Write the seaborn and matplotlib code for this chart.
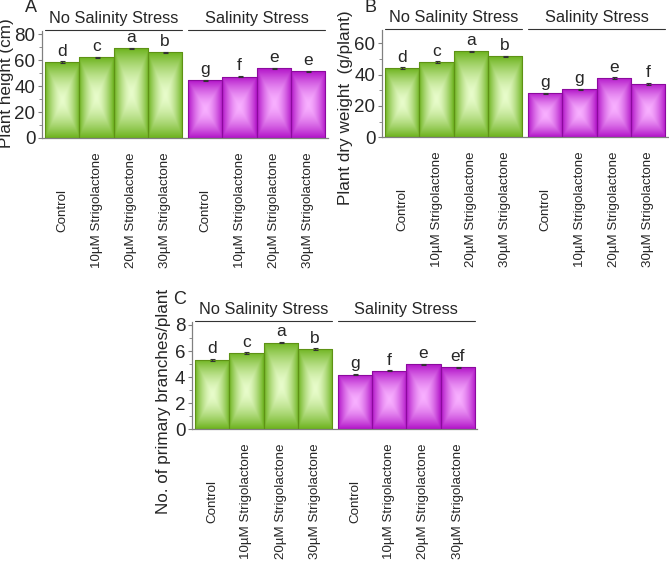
import numpy as np
import pandas as pd
import matplotlib
matplotlib.use("Agg")
import matplotlib.pyplot as plt
import matplotlib.transforms as mtransforms
import seaborn as sns

# data
treatments = ["Control", "10µM Strigolactone", "20µM Strigolactone", "30µM Strigolactone"]
groups = ["No Salinity Stress", "Salinity Stress"]

height_vals = [58.7, 62.4, 69.3, 66.2, 44.6, 47.4, 53.8, 51.5]
height_err = [0.6, 0.5, 0.4, 0.5, 0.5, 0.6, 0.4, 0.5]
height_letters = ["d", "c", "a", "b", "g", "f", "e", "e"]

weight_vals = [44.0, 47.9, 54.9, 51.7, 28.1, 30.6, 37.9, 34.0]
weight_err = [0.6, 0.5, 0.3, 0.4, 0.4, 0.3, 0.4, 0.6]
weight_letters = ["d", "c", "a", "b", "g", "g", "e", "f"]

branch_vals = [5.32, 5.83, 6.65, 6.16, 4.19, 4.50, 4.98, 4.75]
branch_err = [0.08, 0.06, 0.07, 0.05, 0.04, 0.03, 0.04, 0.04]
branch_letters = ["d", "c", "a", "b", "g", "f", "e", "ef"]

sns.set_style("ticks")
plt.rcParams['font.family'] = ['Liberation Sans', 'DejaVu Sans']

W, H = 669, 565
fig = plt.figure(figsize=(W / 100, H / 100), dpi=100)

GAP = 0.175
positions = [0, 1, 2, 3, 4 + GAP, 5 + GAP, 6 + GAP, 7 + GAP]
colors = {"No Salinity Stress": ("#6db31e", "#e8fccb", "#5e9215"),
          "Salinity Stress": ("#b214c8", "#f8b0ff", "#8c0a9e")}


def px_axes(left, right, top, bottom):
    return fig.add_axes([left / W, 1 - bottom / H, (right - left) / W, (bottom - top) / H])


def gradient_img(edge, center, n=120):
    u = np.linspace(-1, 1, n)
    xx, yy = np.meshgrid(u, u)
    t = np.maximum(np.abs(xx), np.abs(yy))
    t = np.clip(t, 0, 1) ** 1.6
    e = np.array(matplotlib.colors.to_rgb(edge))
    c = np.array(matplotlib.colors.to_rgb(center))
    return c[None, None, :] * (1 - t[..., None]) + e[None, None, :] * t[..., None]


def panel(ax, vals, errs, letters, ylabel, ylim, step, label_xy, head_dy):
    df = pd.DataFrame({
        "pos": positions,
        "val": vals,
        "group": [groups[0]] * 4 + [groups[1]] * 4,
    })
    sns.barplot(data=df, x="pos", y="val", hue="group", native_scale=True,
                width=1.0, dodge=False, errorbar=None, legend=False,
                palette={g: colors[g][0] for g in groups}, ax=ax)
    for patch, g in zip(ax.patches, df["group"]):
        edge, center, line = colors[g]
        x0, y0 = patch.get_x(), patch.get_y()
        w, h = patch.get_width(), patch.get_height()
        img = ax.imshow(gradient_img(edge, center), extent=[x0, x0 + w, y0, y0 + h],
                        aspect="auto", zorder=2, interpolation="bilinear")
        img.set_clip_path(patch)
        patch.set_facecolor("none")
        patch.set_edgecolor(line)
        patch.set_linewidth(0.8)
        patch.set_zorder(3)
    ax.errorbar(positions, vals, yerr=errs, fmt="none", ecolor="#333333",
                elinewidth=0.8, capsize=1.8, capthick=0.8, zorder=4)
    off = (ylim[1]) * 0.025
    for x, v, e, lab in zip(positions, vals, errs, letters):
        ax.text(x, v + e + off, lab, ha="center", va="bottom", fontsize=12.5, zorder=5)

    ax.set_xlim(-0.6, 7.75)
    ax.set_ylim(*ylim)
    ax.set_yticks(np.arange(0, ylim[1], step))
    ax.set_yticks(np.arange(step / 2, ylim[1], step), minor=True)
    ax.set_xticks(positions)
    ax.set_xticklabels(treatments * 2, rotation=90, fontsize=9.6)
    for lab in ax.get_xticklabels():
        lab.set_va("center")
    ax.tick_params(axis="x", length=0, pad=52)
    ax.tick_params(axis="y", which="major", length=3, width=0.8, color="#808080",
                   labelsize=13.5, pad=1.5)
    ax.tick_params(axis="y", which="minor", length=2, width=0.7, color="#909090")
    ax.set_xlabel("")
    ax.set_ylabel(ylabel, fontsize=12.3)
    ax.yaxis.set_label_coords(*label_xy)
    ax.yaxis.label.set_va("center")
    for s in ["top", "right"]:
        ax.spines[s].set_visible(False)
    for s in ["left", "bottom"]:
        ax.spines[s].set_color("#808080")
        ax.spines[s].set_linewidth(0.9)

    trans = mtransforms.blended_transform_factory(ax.transData, ax.transAxes)
    spans = [(-0.5, 3.5), (3.5 + GAP, 7.5 + GAP)]
    for (a, b), g in zip(spans, groups):
        ax.plot([a, b], [1.01, 1.01], color="#333333", lw=0.8,
                transform=trans, clip_on=False)
        ax.text((a + b) / 2, 1.01 + head_dy, g, transform=trans, ha="center",
                va="center", fontsize=11.8)


axA = px_axes(41.7, 327.7, 30.6, 138)
panel(axA, height_vals, height_err, height_letters, "Plant height (cm)",
      (0, 83), 20, (-0.122, 0.51), 0.1)

axB = px_axes(381.7, 667.7, 30, 137.3)
panel(axB, weight_vals, weight_err, weight_letters, "Plant dry weight  (g/plant)",
      (0, 68.5), 20, (-0.128, 0.28), 0.11)

axC = px_axes(191.7, 477.3, 321.7, 429.3)
panel(axC, branch_vals, branch_err, branch_letters, "No. of primary branches/plant",
      (0, 8.25), 2, (-0.10, 0.26), 0.1)

for lab, (x, y) in zip("ABC", [(31, 7), (371, 7), (180, 299)]):
    fig.text(x / W, 1 - y / H, lab, ha="center", va="center", fontsize=13)

fig.savefig("out.png", dpi=100)
